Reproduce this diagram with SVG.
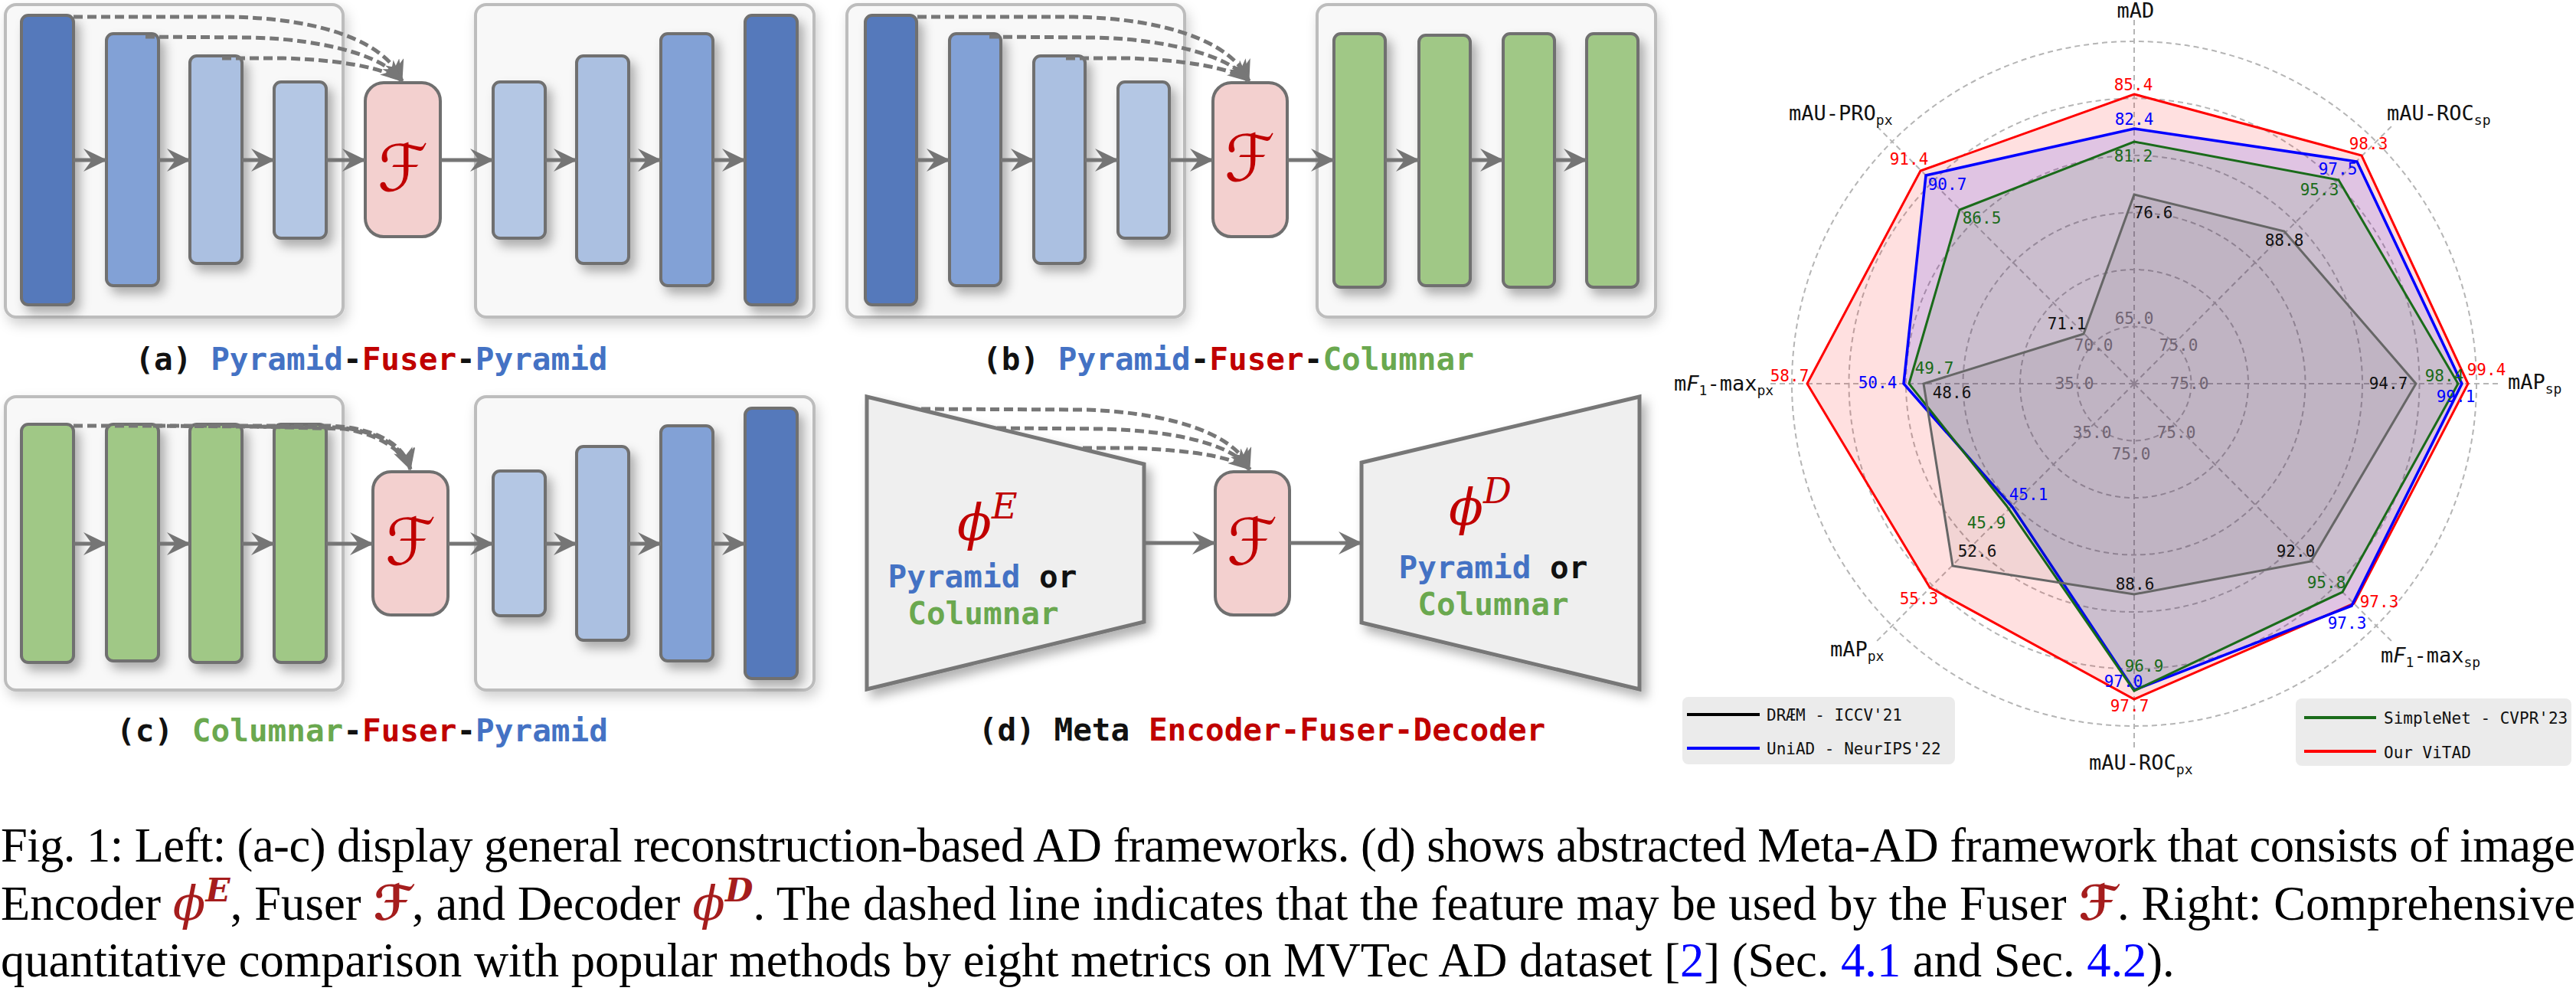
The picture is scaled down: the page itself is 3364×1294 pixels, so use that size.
<svg xmlns="http://www.w3.org/2000/svg" width="3364" height="1294" viewBox="0 0 3364 1294">
<style>
.box{fill:#f8f8f8;stroke:#bdbdbd;stroke-width:4}
.bar{stroke:#6f6f6f;stroke-width:4}
.b1{fill:#5479bb}.b2{fill:#82a1d6}.b3{fill:#abc0e1}.b4{fill:#b4c7e4}.gr{fill:#a0c886}
.fu{fill:#f3d0cf;stroke:#6f6f6f;stroke-width:4}
.trap{fill:#efefef;stroke:#777;stroke-width:5}
.arr{stroke:#757575;stroke-width:5;fill:none;marker-end:url(#ah)}
.dash{stroke:#777;stroke-width:5;stroke-dasharray:12 6;fill:none;marker-end:url(#dh)}
.F{font-family:"DejaVu Sans",sans-serif;font-size:84px;fill:#c00000;text-anchor:middle}
.lab{font-family:"DejaVu Sans Mono",monospace;font-size:41px;font-weight:bold;text-anchor:middle}
.bl{fill:#4472c4}.rd{fill:#c00000}.gn{fill:#6aa84f}.bk{fill:#111}
.ring{fill:none;stroke:#b5b5b5;stroke-width:2;stroke-dasharray:7 5}
.ax{stroke:#b5b5b5;stroke-width:2;stroke-dasharray:7 5}
.v{font-family:"DejaVu Sans Mono",monospace;font-size:21px;text-anchor:middle}
.tk{font-family:"DejaVu Sans Mono",monospace;font-size:21px;text-anchor:middle;fill:#888}
.al{font-family:"DejaVu Sans Mono",monospace;font-size:27px;fill:#111}
.sub{font-size:18px}
.lg{font-family:"DejaVu Sans Mono",monospace;font-size:21px;fill:#111}
.cap{font-family:"Liberation Serif","Times New Roman",serif;font-size:62.5px;fill:#000}
.mth{font-family:"DejaVu Serif",serif;font-style:italic;fill:#a51d1d}
.mthF{font-family:"DejaVu Sans",sans-serif;fill:#a51d1d;font-weight:bold}
</style>
<defs>
<filter id="sh" x="-30%" y="-30%" width="170%" height="170%"><feDropShadow dx="7" dy="9" stdDeviation="7" flood-color="#000" flood-opacity="0.3"/></filter>
<filter id="shb" x="-10%" y="-10%" width="130%" height="130%"><feDropShadow dx="4" dy="8" stdDeviation="8" flood-color="#000" flood-opacity="0.18"/></filter>
<marker id="ah" viewBox="0 0 32 32" refX="31" refY="16" markerUnits="userSpaceOnUse" markerWidth="32" markerHeight="32" orient="auto"><path d="M1,1 L32,16 L1,31 L12,16 Z" fill="#757575"/></marker>
<marker id="dh" viewBox="0 0 28 26" refX="27" refY="13" markerUnits="userSpaceOnUse" markerWidth="28" markerHeight="26" orient="auto"><path d="M0,0 L28,13 L0,26 L8,13 Z" fill="#777"/></marker>
</defs>

<!-- Panel (a) -->
<g id="panel-a">
<g id="a-enc"><rect class="box" x="7" y="6" width="441" height="408" rx="14" filter="url(#shb)"/>
<rect class="bar b1" x="28" y="20" width="68" height="378" rx="9" filter="url(#sh)"/>
<rect class="bar b2" x="139" y="44" width="68" height="329" rx="9" filter="url(#sh)"/>
<rect class="bar b3" x="248" y="73" width="68" height="271" rx="9" filter="url(#sh)"/>
<rect class="bar b4" x="358" y="107" width="68" height="204" rx="9" filter="url(#sh)"/></g>
<g id="a-dec"><rect class="box" x="621" y="6" width="442" height="408" rx="14" filter="url(#shb)"/>
<rect class="bar b4" x="644" y="107" width="68" height="204" rx="9" filter="url(#sh)"/>
<rect class="bar b3" x="753" y="73" width="68" height="271" rx="9" filter="url(#sh)"/>
<rect class="bar b2" x="863" y="44" width="68" height="329" rx="9" filter="url(#sh)"/>
<rect class="bar b1" x="973" y="20" width="68" height="378" rx="9" filter="url(#sh)"/></g>
<g id="a-fuser"><rect class="fu" x="477" y="108" width="98" height="201" rx="24"/><text class="F" x="526" y="249">ℱ</text></g>
<text class="lab" x="485" y="483"><tspan class="bk">(a) </tspan><tspan class="bl">Pyramid</tspan><tspan class="bk">-</tspan><tspan class="rd">Fuser</tspan><tspan class="bk">-</tspan><tspan class="bl">Pyramid</tspan></text>
</g>

<!-- Panel (b) -->
<g id="panel-b">
<g id="b-enc"><rect class="box" x="1106" y="6" width="441" height="408" rx="14" filter="url(#shb)"/>
<rect class="bar b1" x="1130" y="20" width="67" height="378" rx="9" filter="url(#sh)"/>
<rect class="bar b2" x="1240" y="44" width="67" height="329" rx="9" filter="url(#sh)"/>
<rect class="bar b3" x="1350" y="73" width="67" height="271" rx="9" filter="url(#sh)"/>
<rect class="bar b4" x="1460" y="107" width="67" height="204" rx="9" filter="url(#sh)"/></g>
<g id="b-dec"><rect class="box" x="1720" y="6" width="442" height="408" rx="14" filter="url(#shb)"/>
<rect class="bar gr" x="1742" y="44" width="67" height="331" rx="9" filter="url(#sh)"/>
<rect class="bar gr" x="1853" y="46" width="67" height="327" rx="9" filter="url(#sh)"/>
<rect class="bar gr" x="1963" y="44" width="67" height="331" rx="9" filter="url(#sh)"/>
<rect class="bar gr" x="2072" y="44" width="67" height="331" rx="9" filter="url(#sh)"/></g>
<g id="b-fuser"><rect class="fu" x="1584" y="108" width="97" height="201" rx="24"/><text class="F" x="1632" y="236">ℱ</text></g>
<text class="lab" x="1604" y="483"><tspan class="bk">(b) </tspan><tspan class="bl">Pyramid</tspan><tspan class="bk">-</tspan><tspan class="rd">Fuser</tspan><tspan class="bk">-</tspan><tspan class="gn">Columnar</tspan></text>
</g>

<!-- Panel (c) -->
<g id="panel-c">
<g id="c-enc"><rect class="box" x="7" y="518" width="441" height="383" rx="14" filter="url(#shb)"/>
<rect class="bar gr" x="28" y="554" width="68" height="311" rx="9" filter="url(#sh)"/>
<rect class="bar gr" x="139" y="554" width="68" height="309" rx="9" filter="url(#sh)"/>
<rect class="bar gr" x="248" y="554" width="68" height="311" rx="9" filter="url(#sh)"/>
<rect class="bar gr" x="358" y="554" width="68" height="311" rx="9" filter="url(#sh)"/></g>
<g id="c-dec"><rect class="box" x="621" y="518" width="442" height="383" rx="14" filter="url(#shb)"/>
<rect class="bar b4" x="644" y="615" width="68" height="189" rx="9" filter="url(#sh)"/>
<rect class="bar b3" x="753" y="583" width="68" height="253" rx="9" filter="url(#sh)"/>
<rect class="bar b2" x="863" y="556" width="68" height="307" rx="9" filter="url(#sh)"/>
<rect class="bar b1" x="973" y="533" width="68" height="353" rx="9" filter="url(#sh)"/></g>
<g id="c-fuser"><rect class="fu" x="487" y="616" width="98" height="187" rx="24"/><text class="F" x="536" y="737">ℱ</text></g>
<text class="lab" x="473" y="968"><tspan class="bk">(c) </tspan><tspan class="gn">Columnar</tspan><tspan class="bk">-</tspan><tspan class="rd">Fuser</tspan><tspan class="bk">-</tspan><tspan class="bl">Pyramid</tspan></text>
</g>

<!-- Panel (d) -->
<g id="panel-d">
<g id="d-enc"><polygon class="trap" points="1132,518 1494,606 1494,812 1132,900" filter="url(#sh)"/>
<text x="1250" y="705" class="mth" font-size="66" fill="#c00000" style="fill:#c00000">ϕ<tspan font-size="46" dy="-28">E</tspan></text>
<text class="lab" x="1283" y="767"><tspan class="bl">Pyramid</tspan><tspan class="bk"> or</tspan></text>
<text class="lab" x="1284" y="815"><tspan class="gn">Columnar</tspan></text></g>
<g id="d-dec"><polygon class="trap" points="1778,604 2141,518 2141,900 1778,813" filter="url(#sh)"/>
<text x="1892" y="685" class="mth" font-size="66" style="fill:#c00000">ϕ<tspan font-size="46" dy="-28">D</tspan></text>
<text class="lab" x="1950" y="755"><tspan class="bl">Pyramid</tspan><tspan class="bk"> or</tspan></text>
<text class="lab" x="1950" y="803"><tspan class="gn">Columnar</tspan></text></g>
<g id="d-fuser"><rect class="fu" x="1587" y="616" width="97" height="187" rx="24"/><text class="F" x="1635" y="737">ℱ</text></g>
<text class="lab" x="1648" y="967"><tspan class="bk">(d) Meta </tspan><tspan class="rd">Encoder-Fuser-Decoder</tspan></text>
</g>

<!-- Connectors -->
<g id="connectors">
<line class="arr" x1="96" y1="209" x2="139" y2="209"/><line class="arr" x1="207" y1="209" x2="248" y2="209"/><line class="arr" x1="316" y1="209" x2="358" y2="209"/><line class="arr" x1="426" y1="209" x2="477" y2="209"/>
<line class="arr" x1="575" y1="209" x2="644" y2="209"/><line class="arr" x1="712" y1="209" x2="753" y2="209"/><line class="arr" x1="821" y1="209" x2="863" y2="209"/><line class="arr" x1="931" y1="209" x2="973" y2="209"/>
<path class="dash" d="M96,22 L300,22 C420,24 505,55 525,106"/>
<path class="dash" d="M190,48 L330,49 C430,52 505,75 525,106"/>
<path class="dash" d="M290,76 L370,76 C440,78 505,88 525,106"/>

<line class="arr" x1="1197" y1="209" x2="1240" y2="209"/><line class="arr" x1="1307" y1="209" x2="1350" y2="209"/><line class="arr" x1="1417" y1="209" x2="1460" y2="209"/><line class="arr" x1="1527" y1="209" x2="1584" y2="209"/>
<line class="arr" x1="1681" y1="209" x2="1742" y2="209"/><line class="arr" x1="1809" y1="209" x2="1853" y2="209"/><line class="arr" x1="1920" y1="209" x2="1963" y2="209"/><line class="arr" x1="2030" y1="209" x2="2072" y2="209"/>
<path class="dash" d="M1198,22 L1402,22 C1522,24 1610,55 1631,106"/>
<path class="dash" d="M1292,48 L1432,49 C1532,52 1610,75 1631,106"/>
<path class="dash" d="M1392,76 L1472,76 C1542,78 1610,88 1631,106"/>

<line class="arr" x1="96" y1="710" x2="139" y2="710"/><line class="arr" x1="207" y1="710" x2="248" y2="710"/><line class="arr" x1="316" y1="710" x2="358" y2="710"/><line class="arr" x1="426" y1="710" x2="487" y2="710"/>
<line class="arr" x1="585" y1="710" x2="644" y2="710"/><line class="arr" x1="712" y1="710" x2="753" y2="710"/><line class="arr" x1="821" y1="710" x2="863" y2="710"/><line class="arr" x1="931" y1="710" x2="973" y2="710"/>
<path class="dash" d="M96,556 L430,556 C490,558 528,580 536,613"/>
<path class="dash" d="M200,556 L440,558 C495,562 528,585 536,613"/>
<path class="dash" d="M300,556 L450,560 C500,568 528,592 536,613"/>

<line class="arr" x1="1494" y1="709" x2="1587" y2="709"/><line class="arr" x1="1684" y1="709" x2="1778" y2="709"/>
<path class="dash" d="M1203,534 L1420,535 C1540,540 1615,570 1632,613"/>
<path class="dash" d="M1302,559 L1440,560 C1550,563 1615,585 1632,613"/>
<path class="dash" d="M1414,585 L1480,585 C1560,588 1615,598 1632,613"/>
</g>

<!-- Radar chart -->
<g id="radar">
<g id="grid">
<circle class="ring" cx="2787" cy="501" r="74.5"/><circle class="ring" cx="2787" cy="501" r="149"/><circle class="ring" cx="2787" cy="501" r="223.5"/><circle class="ring" cx="2787" cy="501" r="298"/><circle class="ring" cx="2787" cy="501" r="372.5"/><circle class="ring" cx="2787" cy="501" r="447"/>
<line class="ax" x1="2787" y1="501" x2="2787" y2="26"/><line class="ax" x1="2787" y1="501" x2="3123" y2="165"/><line class="ax" x1="2787" y1="501" x2="3262" y2="501"/><line class="ax" x1="2787" y1="501" x2="3123" y2="837"/>
<line class="ax" x1="2787" y1="501" x2="2787" y2="976"/><line class="ax" x1="2787" y1="501" x2="2451" y2="837"/><line class="ax" x1="2787" y1="501" x2="2312" y2="501"/><line class="ax" x1="2787" y1="501" x2="2451" y2="165"/>
</g>
<g id="ticks">
<text class="tk" x="2787" y="423">65.0</text><text class="tk" x="2734" y="458">70.0</text><text class="tk" x="2845" y="458">75.0</text>
<text class="tk" x="2709" y="508">35.0</text><text class="tk" x="2859" y="508">75.0</text>
<text class="tk" x="2732" y="572">35.0</text><text class="tk" x="2842" y="572">75.0</text><text class="tk" x="2783" y="600">75.0</text>
</g>
<g id="series">
<polygon points="2787,123 3084,203 3223,501 3074,788 2787,913 2520,767 2360,501 2508,223" fill="#ff0000" fill-opacity="0.12" stroke="#ff0000" stroke-width="3"/>
<polygon points="2787,168 3078,211 3215,501 3071,791 2787,901 2628,662 2486,501 2515,229" fill="#0000ff" fill-opacity="0.12" stroke="#0000ff" stroke-width="3.5"/>
<polygon points="2787,185 3054,235 3210,501 3059,773 2787,902 2620,660 2493,501 2559,274" fill="#008000" fill-opacity="0.09" stroke="#1a6b1a" stroke-width="3"/>
<polygon points="2787,254 2983,302 3155,501 3018,733 2787,776 2550,739 2512,501 2721,436" fill="#000" fill-opacity="0.05" stroke="#666" stroke-width="3"/>
</g>
<g id="values">
<g fill="#ff0000"><text class="v" x="2786" y="118">85.4</text><text class="v" x="3093" y="195">98.3</text><text class="v" x="3247" y="490">99.4</text><text class="v" x="3107" y="793">97.3</text><text class="v" x="2781" y="929">97.7</text><text class="v" x="2506" y="789">55.3</text><text class="v" x="2337" y="498">58.7</text><text class="v" x="2493" y="215">91.4</text></g>
<g fill="#0000ff"><text class="v" x="2787" y="163">82.4</text><text class="v" x="3053" y="228">97.5</text><text class="v" x="3207" y="525">99.1</text><text class="v" x="3065" y="821">97.3</text><text class="v" x="2773" y="897">97.0</text><text class="v" x="2649" y="653">45.1</text><text class="v" x="2452" y="507">50.4</text><text class="v" x="2543" y="248">90.7</text></g>
<g fill="#1a6b1a"><text class="v" x="2786" y="211">81.2</text><text class="v" x="3029" y="255">95.3</text><text class="v" x="3192" y="498">98.4</text><text class="v" x="3038" y="768">95.8</text><text class="v" x="2800" y="877">96.9</text><text class="v" x="2594" y="690">45.9</text><text class="v" x="2526" y="488">49.7</text><text class="v" x="2588" y="292">86.5</text></g>
<g fill="#111"><text class="v" x="2812" y="285">76.6</text><text class="v" x="2983" y="321">88.8</text><text class="v" x="3119" y="508">94.7</text><text class="v" x="2998" y="727">92.0</text><text class="v" x="2788" y="770">88.6</text><text class="v" x="2582" y="727">52.6</text><text class="v" x="2549" y="520">48.6</text><text class="v" x="2699" y="430">71.1</text></g>
</g>
<g id="axis-labels">
<text class="al" x="2789" y="23" text-anchor="middle">mAD</text>
<text class="al" x="3117" y="157">mAU-ROC<tspan class="sub" dy="6">sp</tspan></text>
<text class="al" x="3275" y="508">mAP<tspan class="sub" dy="6">sp</tspan></text>
<text class="al" x="3109" y="865">m<tspan font-style="italic">F</tspan><tspan class="sub" dy="6">1</tspan><tspan dy="-6">-max</tspan><tspan class="sub" dy="6">sp</tspan></text>
<text class="al" x="2728" y="1005">mAU-ROC<tspan class="sub" dy="6">px</tspan></text>
<text class="al" x="2390" y="857">mAP<tspan class="sub" dy="6">px</tspan></text>
<text class="al" x="2186" y="510">m<tspan font-style="italic">F</tspan><tspan class="sub" dy="6">1</tspan><tspan dy="-6">-max</tspan><tspan class="sub" dy="6">px</tspan></text>
<text class="al" x="2336" y="157">mAU-PRO<tspan class="sub" dy="6">px</tspan></text>
</g>
<g id="legend-left">
<rect x="2197" y="910" width="356" height="88" rx="8" fill="#e9e9e9" fill-opacity="0.9"/>
<line x1="2203" y1="933" x2="2298" y2="933" stroke="#000" stroke-width="4"/><text class="lg" x="2307" y="941">DRÆM - ICCV'21</text>
<line x1="2203" y1="977" x2="2298" y2="977" stroke="#0000ff" stroke-width="4"/><text class="lg" x="2307" y="985">UniAD - NeurIPS'22</text>
</g>
<g id="legend-right">
<rect x="2998" y="912" width="360" height="88" rx="8" fill="#e9e9e9" fill-opacity="0.9"/>
<line x1="3009" y1="937" x2="3103" y2="937" stroke="#1a6b1a" stroke-width="4"/><text class="lg" x="3113" y="945">SimpleNet - CVPR'23</text>
<line x1="3009" y1="981" x2="3103" y2="981" stroke="#ff0000" stroke-width="4"/><text class="lg" x="3113" y="990">Our ViTAD</text>
</g>
</g>

<!-- Caption -->
<g id="caption">
<text class="cap" x="1" y="1125" textLength="3362" lengthAdjust="spacing">Fig. 1: Left: (a-c) display general reconstruction-based AD frameworks. (d) shows abstracted Meta-AD framework that consists of image</text>
<text class="cap" x="1" y="1201" textLength="3362" lengthAdjust="spacing">Encoder <tspan class="mth">ϕ</tspan><tspan class="mth" font-weight="bold" font-size="42" dy="-24">E</tspan><tspan dy="24">, Fuser </tspan><tspan class="mthF">ℱ</tspan>, and Decoder <tspan class="mth">ϕ</tspan><tspan class="mth" font-weight="bold" font-size="42" dy="-24">D</tspan><tspan dy="24">. The dashed line indicates that the feature may be used by the Fuser </tspan><tspan class="mthF">ℱ</tspan>. Right: Comprehensive</text>
<text class="cap" x="1" y="1275">quantitative comparison with popular methods by eight metrics on MVTec AD dataset [<tspan fill="#0000ff">2</tspan>] (Sec. <tspan fill="#0000ff">4.1</tspan> and Sec. <tspan fill="#0000ff">4.2</tspan>).</text>
</g>
</svg>
